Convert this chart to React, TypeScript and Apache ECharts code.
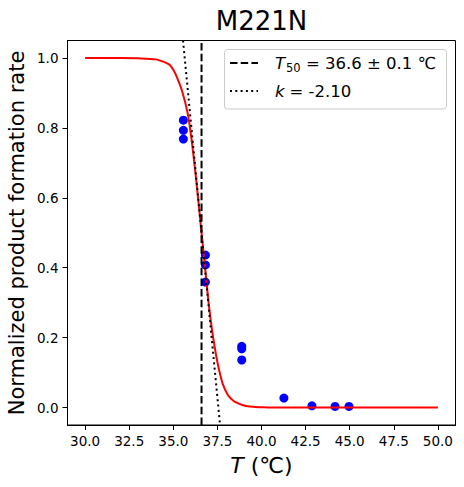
import React, { useEffect, useRef } from "react";
import * as echarts from "echarts";

// Measured data (temperature °C, normalized rate)
const pointT = [35.57, 35.57, 35.57, 36.82, 36.82, 36.82, 38.88, 38.88, 38.88, 41.27, 42.86, 44.17, 44.96];
const pointY = [0.822, 0.793, 0.768, 0.436, 0.408, 0.359, 0.175, 0.168, 0.136, 0.027, 0.005, 0.003, 0.003];

// Fitted sigmoid curve
const curveT = [30, 32, 33, 34, 34.5, 34.8, 35, 35.2, 35.5, 35.8, 36, 36.3, 36.6, 36.9, 37, 37.2, 37.5, 37.8, 38.1, 38.3, 38.5, 39, 39.5, 40, 41, 45, 50];
const curveY = [1.0, 1.0, 0.999, 0.996, 0.988, 0.98, 0.966, 0.945, 0.905, 0.845, 0.78, 0.65, 0.5, 0.35, 0.3, 0.22, 0.13, 0.068, 0.035, 0.024, 0.016, 0.006, 0.002, 0.001, 0.0, 0.0, 0.0];

// T50 vertical line and slope (k) tangent line end points
const t50Line = [[36.6, -0.05], [36.6, 1.05]];
const slopeLine = [[35.55, 1.05], [37.65, -0.05]];

const xTicks = [30, 32.5, 35, 37.5, 40, 42.5, 45, 47.5, 50];
const yTicks = [0, 0.2, 0.4, 0.6, 0.8, 1.0];

const titleText = "M221N";
const yLabel = "Normalized product formation rate";
const legendT50 = "= 36.6 ± 0.1 ℃";
const legendK = "= -2.10";

const FONT = "DejaVu Sans";

export default function App() {
  const ref = useRef<HTMLDivElement>(null);
  useEffect(() => {
    if (!ref.current) return;
    const chart = echarts.init(ref.current, null, { renderer: "svg" });
    const axisCommon = {
      type: "value" as const,
      axisLine: { show: true, onZero: false, lineStyle: { color: "#000", width: 1 } },
      splitLine: { show: false },
      axisTick: { show: true, inside: false, length: 5, lineStyle: { color: "#000", width: 1 } },
    };
    chart.setOption({
      animation: false,
      backgroundColor: "#fff",
      grid: {
        left: 67.5,
        right: 8.5,
        top: 40.5,
        bottom: 62,
        show: true,
        borderColor: "#000",
        borderWidth: 1,
        containLabel: false,
        outerBoundsMode: "none",
      },
      xAxis: {
        ...axisCommon,
        min: 29,
        max: 51,
        axisTick: { ...axisCommon.axisTick, customValues: xTicks },
        axisLabel: {
          customValues: xTicks,
          formatter: (v: number) => v.toFixed(1),
          fontFamily: FONT,
          fontSize: 13.5,
          color: "#000",
          margin: 9,
        },
      },
      yAxis: {
        ...axisCommon,
        min: -0.05,
        max: 1.05,
        axisTick: { ...axisCommon.axisTick, customValues: yTicks },
        axisLabel: {
          customValues: yTicks,
          formatter: (v: number) => v.toFixed(1),
          fontFamily: FONT,
          fontSize: 13.5,
          color: "#000",
          margin: 9,
        },
      },
      series: [
        {
          type: "scatter",
          data: pointT.map((t, i) => [t, pointY[i]]),
          symbol: "circle",
          symbolSize: 9,
          itemStyle: { color: "#0000ff", opacity: 1 },
          z: 2,
        },
        {
          type: "line",
          data: curveT.map((t, i) => [t, curveY[i]]),
          showSymbol: false,
          smooth: 0.3,
          lineStyle: { color: "#ff0000", width: 2 },
          clip: true,
          z: 3,
        },
        {
          type: "line",
          data: t50Line,
          showSymbol: false,
          lineStyle: { color: "#000", width: 2, type: [7.5, 3.2] },
          clip: true,
          z: 4,
        },
        {
          type: "line",
          data: slopeLine,
          showSymbol: false,
          lineStyle: { color: "#000", width: 2, type: [2, 3.3] },
          clip: true,
          z: 4,
        },
      ],
      graphic: [
        {
          type: "text",
          x: 261.5,
          y: 21,
          style: { text: titleText, fontFamily: FONT, fontSize: 26, fill: "#000", align: "center", verticalAlign: "middle" },
        },
        {
          type: "text",
          x: 17,
          y: 233,
          rotation: Math.PI / 2,
          style: { text: yLabel, fontFamily: FONT, fontSize: 21, fill: "#000", align: "center", verticalAlign: "middle" },
        },
        {
          type: "text",
          x: 261.5,
          y: 465,
          style: {
            text: "{i|T} (℃)",
            align: "center",
            verticalAlign: "middle",
            fontFamily: FONT,
            fontSize: 22,
            fill: "#000",
            rich: {
              i: { fontFamily: FONT, fontSize: 22, fontStyle: "italic", fill: "#000" },
            },
          },
        },
        {
          type: "rect",
          shape: { x: 224.5, y: 49.5, width: 222, height: 59.5, r: 3 },
          style: { fill: "rgba(255,255,255,0.8)", stroke: "#cccccc", lineWidth: 1 },
          z: 10,
        },
        {
          type: "line",
          shape: { x1: 230, y1: 63, x2: 258, y2: 63 },
          style: { stroke: "#000", lineWidth: 2, lineDash: [7.5, 3.2] },
          z: 11,
        },
        {
          type: "line",
          shape: { x1: 230, y1: 91, x2: 258, y2: 91 },
          style: { stroke: "#000", lineWidth: 2, lineDash: [2, 3.3] },
          z: 11,
        },
        {
          type: "text",
          x: 275,
          y: 63,
          style: { text: "T", fontFamily: FONT, fontSize: 16.5, fontStyle: "italic", fill: "#000", align: "left", verticalAlign: "middle" },
          z: 11,
        },
        {
          type: "text",
          x: 286,
          y: 67.5,
          style: { text: "50", fontFamily: FONT, fontSize: 11.5, fill: "#000", align: "left", verticalAlign: "middle" },
          z: 11,
        },
        {
          type: "text",
          x: 306,
          y: 63,
          style: { text: legendT50, fontFamily: FONT, fontSize: 16.5, fill: "#000", align: "left", verticalAlign: "middle" },
          z: 11,
        },
        {
          type: "text",
          x: 275,
          y: 91,
          style: { text: "k", fontFamily: FONT, fontSize: 16.5, fontStyle: "italic", fill: "#000", align: "left", verticalAlign: "middle" },
          z: 11,
        },
        {
          type: "text",
          x: 289.5,
          y: 91,
          style: { text: legendK, fontFamily: FONT, fontSize: 16.5, fill: "#000", align: "left", verticalAlign: "middle" },
          z: 11,
        },
      ],
    });
    return () => chart.dispose();
  }, []);
  return (
    <div
      ref={ref}
      style={{ position: "fixed", left: 0, top: 0, width: 464, height: 487, background: "#fff" }}
    />
  );
}
